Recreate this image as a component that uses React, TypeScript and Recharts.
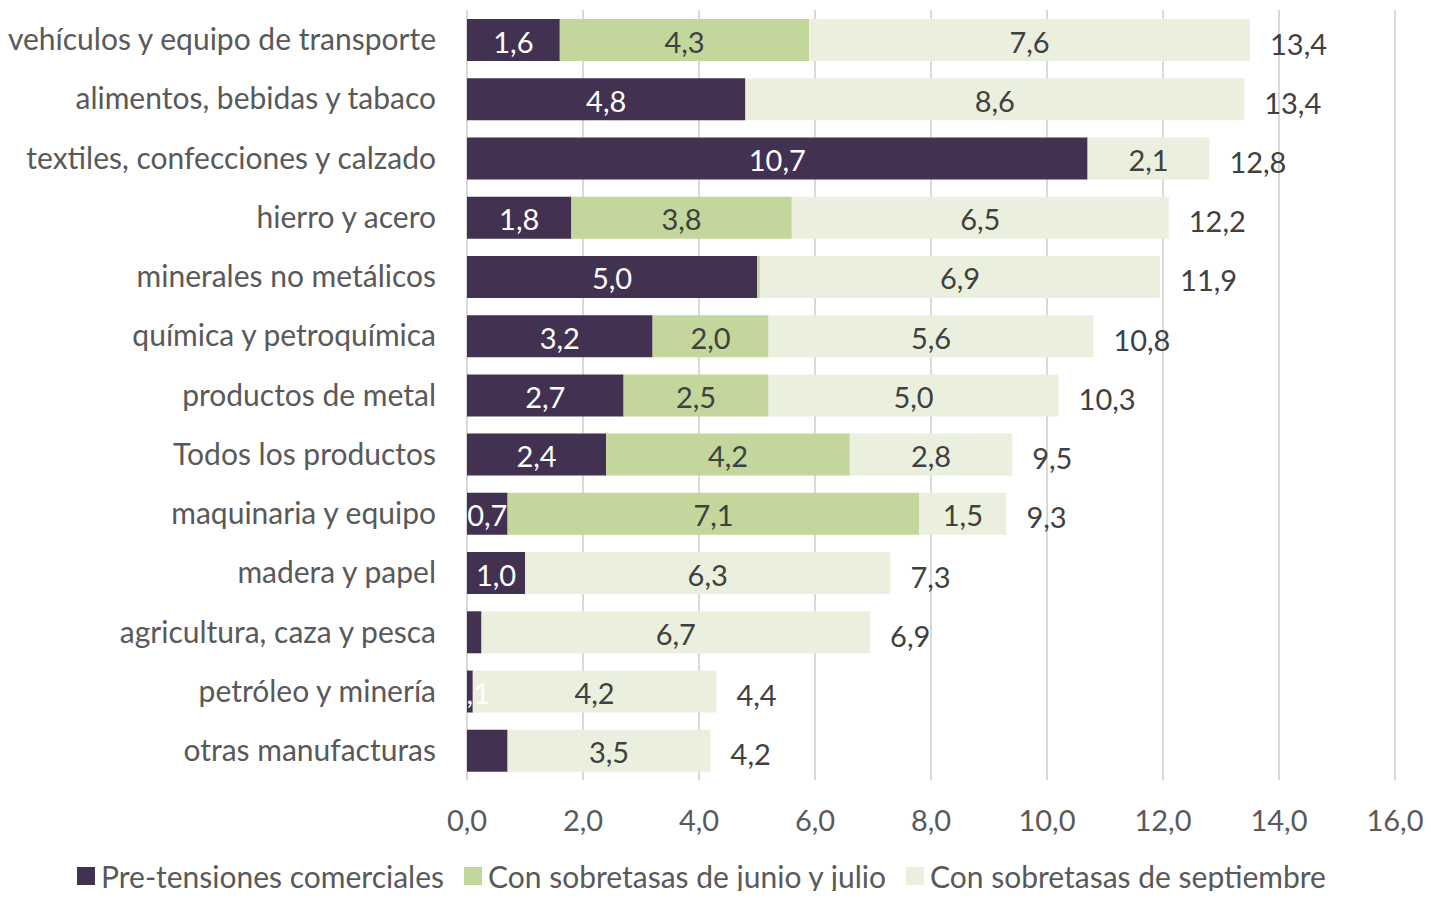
import React from 'react';
import {
  BarChart,
  Bar,
  XAxis,
  YAxis,
  CartesianGrid,
  Legend,
  LabelList,
} from 'recharts';

const categories = [
  'vehículos y equipo de transporte',
  'alimentos, bebidas y tabaco',
  'textiles, confecciones y calzado',
  'hierro y acero',
  'minerales no metálicos',
  'química y petroquímica',
  'productos de metal',
  'Todos los productos',
  'maquinaria y equipo',
  'madera y papel',
  'agricultura, caza y pesca',
  'petróleo y minería',
  'otras manufacturas',
];

const preTensiones = [1.6, 4.8, 10.7, 1.8, 5.0, 3.2, 2.7, 2.4, 0.7, 1.0, 0.25, 0.1, 0.7];
const junioJulio = [4.3, 0, 0, 3.8, 0.05, 2.0, 2.5, 4.2, 7.1, 0, 0, 0, 0];
const septiembre = [7.6, 8.6, 2.1, 6.5, 6.9, 5.6, 5.0, 2.8, 1.5, 6.3, 6.7, 4.2, 3.5];
const totals = [13.4, 13.4, 12.8, 12.2, 11.9, 10.8, 10.3, 9.5, 9.3, 7.3, 6.9, 4.4, 4.2];

// categories whose first segment label is not shown in the source
const hiddenPreLabels = ['agricultura, caza y pesca', 'otras manufacturas'];

const xTicks = [0, 2, 4, 6, 8, 10, 12, 14, 16];

const seriesNames = {
  pre: 'Pre-tensiones comerciales',
  jj: 'Con sobretasas de junio y julio',
  sep: 'Con sobretasas de septiembre',
};

const COLORS = {
  pre: '#433152',
  jj: '#c3d69b',
  sep: '#ebf0de',
};

const FONT = 'Lato, "Open Sans", sans-serif';
const AXIS_SIZE = 30;
const LABEL_SIZE = 29;

const data = categories.map((name, i) => ({
  name,
  pre: preTensiones[i],
  jj: junioJulio[i],
  sep: septiembre[i],
  total: totals[i],
}));

const fmt = (v: number) => v.toFixed(1).replace('.', ',');

function makeInsideLabel(color: string, minValue: number, hidden: string[] = []) {
  return (props: any) => {
    const { x, y, width, height, value, index } = props;
    if (value == null || value < minValue) return null;
    if (hidden.includes(categories[index])) return null;
    return (
      <text
        x={x + width / 2}
        y={y + height / 2 + 1}
        fill={color}
        fontSize={LABEL_SIZE}
        fontFamily={FONT}
        textAnchor="middle"
        dominantBaseline="central"
      >
        {fmt(value)}
      </text>
    );
  };
}

const TotalLabel = (props: any) => {
  const { x, y, width, height, index } = props;
  return (
    <text
      x={x + width + 20}
      y={y + height / 2 + 3}
      fill="#404040"
      fontSize={LABEL_SIZE}
      fontFamily={FONT}
      textAnchor="start"
      dominantBaseline="central"
    >
      {fmt(totals[index])}
    </text>
  );
};

const LegendContent = () => {
  const items = [
    { key: 'pre', label: seriesNames.pre, color: COLORS.pre },
    { key: 'jj', label: seriesNames.jj, color: COLORS.jj },
    { key: 'sep', label: seriesNames.sep, color: COLORS.sep },
  ];
  return (
    <div
      style={{
        display: 'flex',
        justifyContent: 'center',
        alignItems: 'center',
        gap: 20,
        height: 30,
        fontFamily: FONT,
        fontSize: AXIS_SIZE,
        lineHeight: '30px',
        color: '#595959',
      }}
    >
      {items.map((it) => (
        <div key={it.key} style={{ display: 'flex', alignItems: 'center' }}>
          <span
            style={{
              display: 'inline-block',
              width: 18,
              height: 18,
              background: it.color,
              marginRight: 6,
            }}
          />
          <span>{it.label}</span>
        </div>
      ))}
    </div>
  );
};

export default function App() {
  return (
    <div style={{ width: 1415, height: 883 }}>
      <BarChart
        width={1415}
        height={883}
        data={data}
        layout="vertical"
        margin={{ top: 2, right: 28, left: 0, bottom: 0 }}
        barSize={42}
      >
        <CartesianGrid horizontal={false} stroke="#d9d9d9" strokeWidth={2} />
        <XAxis
          type="number"
          domain={[0, 16]}
          ticks={xTicks}
          tickFormatter={fmt}
          axisLine={false}
          tickLine={false}
          tickSize={0}
          tickMargin={30}
          height={81}
          tick={{ fill: '#595959', fontSize: LABEL_SIZE, fontFamily: FONT }}
        />
        <YAxis
          type="category"
          dataKey="name"
          width={459}
          axisLine={false}
          tickLine={false}
          tickSize={0}
          tickMargin={31}
          interval={0}
          tick={{ fill: '#595959', fontSize: AXIS_SIZE, fontFamily: FONT }}
        />
        <Legend verticalAlign="bottom" height={30} content={<LegendContent />} />
        <Bar dataKey="pre" name={seriesNames.pre} stackId="a" fill={COLORS.pre} isAnimationActive={false}>
          <LabelList dataKey="pre" content={makeInsideLabel('#ffffff', 0.08, hiddenPreLabels)} />
        </Bar>
        <Bar dataKey="jj" name={seriesNames.jj} stackId="a" fill={COLORS.jj} isAnimationActive={false}>
          <LabelList dataKey="jj" content={makeInsideLabel('#404040', 0.1)} />
        </Bar>
        <Bar dataKey="sep" name={seriesNames.sep} stackId="a" fill={COLORS.sep} isAnimationActive={false}>
          <LabelList dataKey="sep" content={makeInsideLabel('#404040', 0.1)} />
          <LabelList dataKey="total" content={TotalLabel} />
        </Bar>
      </BarChart>
    </div>
  );
}
